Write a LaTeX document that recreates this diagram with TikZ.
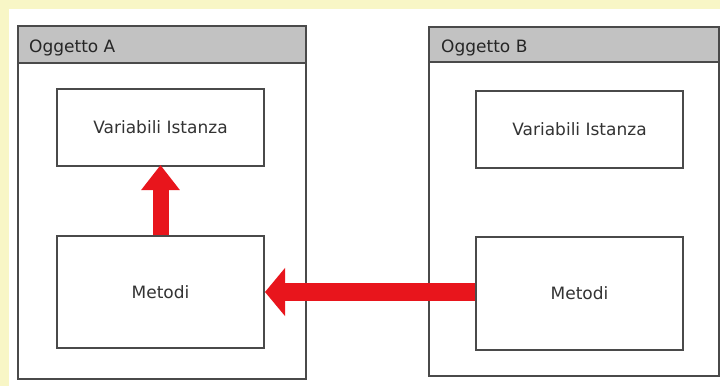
\documentclass[tikz,border=0pt]{standalone}
\usepackage{fontspec}
\setmainfont{DejaVu Sans}
\usetikzlibrary{arrows.meta,positioning}
\definecolor{paper}{HTML}{F8F6C6}
\definecolor{hdrgray}{HTML}{C2C2C2}
\definecolor{edge}{HTML}{4A4A4A}
\definecolor{arrowred}{HTML}{E8151C}
\tikzset{
  objbox/.style={draw=edge, line width=2pt, fill=white, anchor=north west, inner sep=0pt},
  hdrbox/.style={draw=edge, line width=2pt, fill=hdrgray, anchor=north west, inner sep=0pt, minimum height=37pt},
  hdrtext/.style={anchor=west, inner sep=0pt, font=\fontsize{17}{20}\selectfont, text=black!85},
  partbox/.style={draw=edge, line width=2pt, fill=white, anchor=north west, inner sep=0pt,
    minimum width=207pt, font=\fontsize{17}{20}\selectfont, text=black!80},
  callarrow/.style={draw=arrowred}
}
\begin{document}
\begin{tikzpicture}[x=1pt,y=-1pt]
  \useasboundingbox (0,0) rectangle (720,386);
  \fill[paper] (0,0) rectangle (720,386);
  \fill[white] (9,9) rectangle (720,386);

  % object A
  \node[objbox, minimum width=288pt, minimum height=353pt] (oa) at (17,25) {};
  \node[hdrbox, minimum width=288pt] (ha) at (17,25) {};
  \node[hdrtext] (ta) at ([xshift=12pt,yshift=-3pt]ha.west) {Oggetto A};
  \node[partbox, minimum height=77pt] (av) at (56,88) {Variabili Istanza};
  \node[partbox, minimum height=112pt] (am) at (56,235) {Metodi};

  % object B
  \node[objbox, minimum width=290pt, minimum height=349pt] (ob) at (428,26) {};
  \node[hdrbox, minimum width=290pt, minimum height=35pt] (hb) at (428,26) {};
  \node[hdrtext] (tb) at ([xshift=13pt,yshift=-3pt]hb.west) {Oggetto B};
  \node[partbox, minimum height=77pt] (bv) at (475,90) {Variabili Istanza};
  \node[partbox, minimum height=113pt] (bm) at (475,236) {Metodi};

  % calls
  \draw[callarrow, line width=16pt, arrows={-{Triangle[length=25pt,width=37pt]}}]
    (am.north) -- ([yshift=2pt]av.south);
  \draw[callarrow, line width=18pt, arrows={-{Triangle[length=20pt,width=47pt]}}]
    (bm.west |- am.east) -- (am.east);
\end{tikzpicture}
\end{document}
